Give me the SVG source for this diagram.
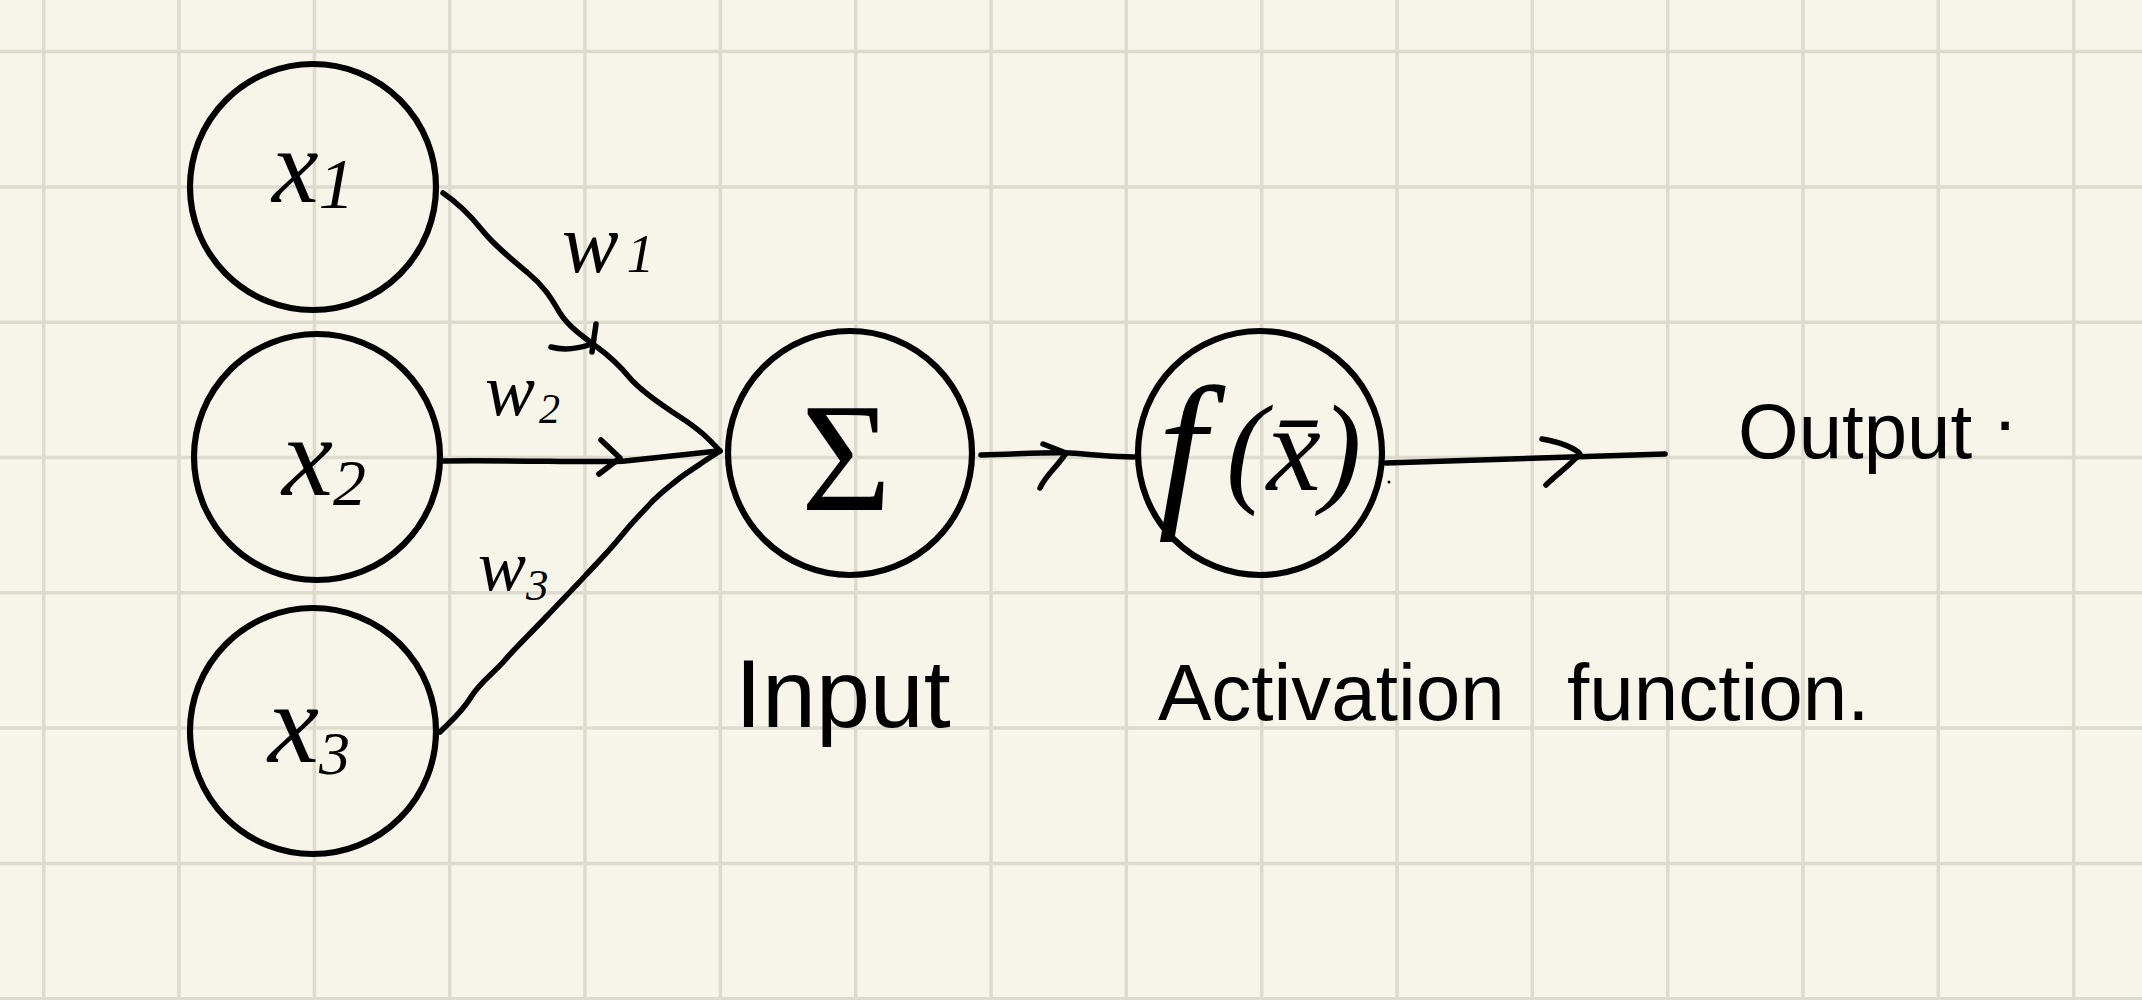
<svg xmlns="http://www.w3.org/2000/svg" width="2142" height="1000" viewBox="0 0 2142 1000">
<style>
.grid line{stroke:#dcdbce;stroke-width:3.5}
.node circle{fill:none;stroke:#000;stroke-width:6.2}
.conn path{fill:none;stroke:#000;stroke-linecap:round;stroke-linejoin:round;stroke-width:5.5}
.math{font-family:"Liberation Serif","DejaVu Serif",serif;font-style:italic;fill:#000}
.up{font-family:"Liberation Serif","DejaVu Serif",serif;fill:#000}
.hand{font-family:"Liberation Sans","DejaVu Sans",sans-serif;fill:#000}
</style>
<rect x="0" y="0" width="2142" height="1000" fill="#f7f5e9"/>
<g class="grid">
<line x1="43.7" y1="0" x2="43.7" y2="1000"/><line x1="179" y1="0" x2="179" y2="1000"/><line x1="314.4" y1="0" x2="314.4" y2="1000"/><line x1="449.7" y1="0" x2="449.7" y2="1000"/><line x1="585" y1="0" x2="585" y2="1000"/><line x1="720.4" y1="0" x2="720.4" y2="1000"/><line x1="855.7" y1="0" x2="855.7" y2="1000"/><line x1="991" y1="0" x2="991" y2="1000"/><line x1="1126.3" y1="0" x2="1126.3" y2="1000"/><line x1="1261.7" y1="0" x2="1261.7" y2="1000"/><line x1="1397" y1="0" x2="1397" y2="1000"/><line x1="1532.3" y1="0" x2="1532.3" y2="1000"/><line x1="1667.7" y1="0" x2="1667.7" y2="1000"/><line x1="1803" y1="0" x2="1803" y2="1000"/><line x1="1938.3" y1="0" x2="1938.3" y2="1000"/><line x1="2073.7" y1="0" x2="2073.7" y2="1000"/>
<line x1="0" y1="51.6" x2="2142" y2="51.6"/><line x1="0" y1="186.9" x2="2142" y2="186.9"/><line x1="0" y1="322.2" x2="2142" y2="322.2"/><line x1="0" y1="457.5" x2="2142" y2="457.5"/><line x1="0" y1="592.8" x2="2142" y2="592.8"/><line x1="0" y1="728.1" x2="2142" y2="728.1"/><line x1="0" y1="863.4" x2="2142" y2="863.4"/><line x1="0" y1="998.7" x2="2142" y2="998.7"/>
</g>
<g id="connectors" class="conn">
<path id="edge-x1-sum" d="M443,193 C455,201 470,215 482,230 S510,258 528,273 S552,300 560,313 S582,336 597,347 S620,366 629,377 S660,404 680,417 S708,438 720,451" stroke-width="4.8"/>
<path d="M551,347 C565,351 580,348 592,344" stroke-width="6.5"/>
<path d="M596,324 L592,352" stroke-width="5.5"/>
<path id="edge-x2-sum" d="M442,461 C520,460 600,463 625,461 L718,451" stroke-width="6"/>
<path d="M601,440 L620,458 L599,474" stroke-width="6"/>
<path id="edge-x3-sum" d="M440,732 C452,720 462,712 471,697 S495,672 505,660 S530,634 546,617 S572,590 585,576 S610,550 622,535 S640,515 649,505 S665,490 676,481 S695,468 703,462 L720,451" stroke-width="5"/>
<path id="edge-sum-act" d="M981,455 C1020,454 1050,452 1070,453 S1100,457 1134,457" stroke-width="6.5"/>
<path d="M1043,444 L1066,453 C1058,466 1045,476 1040,488" stroke-width="6.5"/>
<path id="edge-act-out" d="M1386,463 L1665,454" stroke-width="5.5"/>
<path d="M1542,439 C1560,442 1575,448 1580,454 C1570,465 1555,476 1546,485" stroke-width="6.5"/>
<circle cx="1389" cy="482" r="1.5" fill="#000"/>
<text class="math" x="562" y="272" font-size="85">w<tspan font-size="55" dx="8">1</tspan></text>
<text class="math" x="485" y="415" font-size="75">w<tspan font-size="42" dx="4" dy="8">2</tspan></text>
<text class="math" x="478" y="590" font-size="72">w<tspan font-size="45" dx="0" dy="10">3</tspan></text>
</g>
<g id="node-x1" class="node">
<circle cx="313" cy="187" r="123"/>
<text class="math" x="272" y="202" font-size="105">x<tspan font-size="72" dy="6">1</tspan></text>
</g>
<g id="node-x2" class="node">
<circle cx="317" cy="457" r="123"/>
<text class="math" x="282" y="495" font-size="115">x<tspan font-size="66" dy="10">2</tspan></text>
</g>
<g id="node-x3" class="node">
<circle cx="313" cy="731" r="123"/>
<text class="math" x="268" y="762" font-size="115">x<tspan font-size="62" dy="12">3</tspan></text>
</g>
<g id="node-sum" class="node">
<circle cx="850" cy="453" r="122"/>
<text class="up" x="846" y="510" font-size="155" text-anchor="middle">Σ</text>
</g>
<g id="node-act" class="node">
<circle cx="1260" cy="453" r="122"/>
<text class="math" x="1158" y="505" font-size="172">f</text>
<text class="math" x="1226" y="490" font-size="122">(x̄)</text>
</g>
<g id="node-output">
<text class="hand" x="1738" y="458" font-size="78">Output<tspan dx="22" dy="-28">.</tspan></text>
</g>
<g id="label-input">
<text class="hand" x="735" y="727" font-size="97">Input</text>
</g>
<g id="label-activation">
<text class="hand" x="1158" y="720" font-size="80">Activation<tspan x="1567">function.</tspan></text>
</g>
</svg>
